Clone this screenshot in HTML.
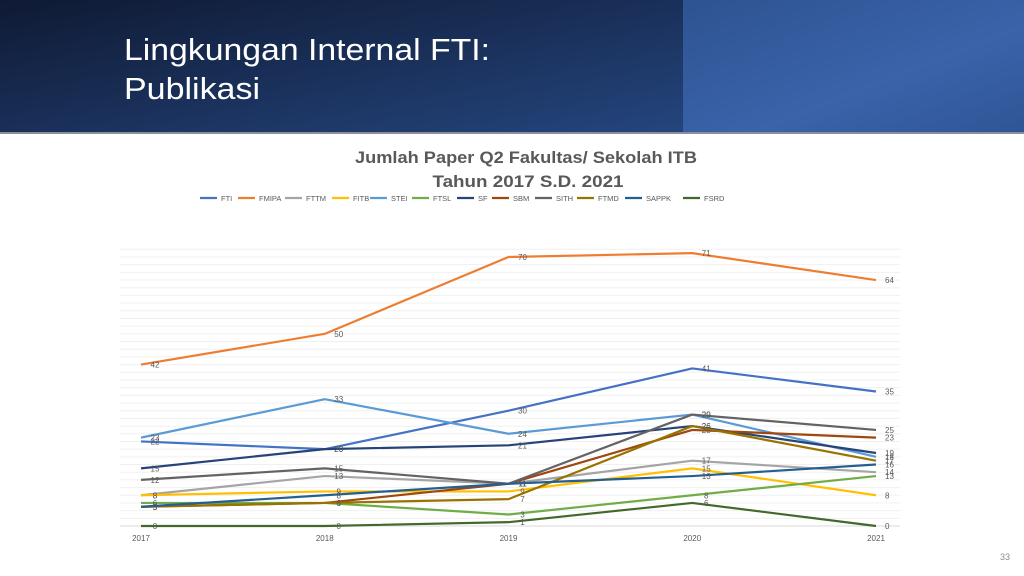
<!DOCTYPE html>
<html><head><meta charset="utf-8"><style>
html,body{margin:0;padding:0;width:1024px;height:576px;overflow:hidden;background:#fff;font-family:"Liberation Sans",sans-serif}
</style></head><body>
<svg width="1024" height="576" viewBox="0 0 1024 576" xmlns="http://www.w3.org/2000/svg">
<defs>
<linearGradient id="bgL" x1="0" y1="0" x2="1" y2="1"><stop offset="0" stop-color="#0f1a33"/><stop offset="1" stop-color="#24457e"/></linearGradient>
<linearGradient id="bgR" x1="0" y1="0" x2="1" y2="1"><stop offset="0" stop-color="#2e5392"/><stop offset="0.6" stop-color="#3a63a9"/><stop offset="1" stop-color="#2f5596"/></linearGradient>
</defs>
<rect x="0" y="0" width="683" height="133" fill="url(#bgL)"/>
<rect x="683" y="0" width="341" height="133" fill="url(#bgR)"/>
<rect x="0" y="132" width="1024" height="2" fill="#8a8f99"/>
<text x="124" y="60" font-size="31" fill="#fff" textLength="366" lengthAdjust="spacingAndGlyphs">Lingkungan Internal FTI:</text>
<text x="124" y="99" font-size="31" fill="#fff" textLength="136" lengthAdjust="spacingAndGlyphs">Publikasi</text>
<text x="526" y="163" font-size="17" font-weight="bold" fill="#595959" text-anchor="middle" textLength="342" lengthAdjust="spacingAndGlyphs">Jumlah Paper Q2 Fakultas/ Sekolah ITB</text>
<text x="528" y="187" font-size="17" font-weight="bold" fill="#595959" text-anchor="middle" textLength="191" lengthAdjust="spacingAndGlyphs">Tahun 2017 S.D. 2021</text>
<g id="grid"></g>
<g id="legend"></g>
<g id="series"></g>
<g id="xaxis"></g>
<text x="1010" y="560" font-size="9" fill="#8c8c8c" text-anchor="end">33</text>
</svg>
<script>
const years = ["2017","2018","2019","2020","2021"];
const names = ["FTI","FMIPA","FTTM","FITB","STEI","FTSL","SF","SBM","SITH","FTMD","SAPPK","FSRD"];
const colors = ["#4472c4","#ed7d31","#a5a5a5","#ffc000","#5b9bd5","#70ad47","#264478","#9e480e","#636363","#997300","#255e91","#43682b"];
const vFTI = [22,20,30,41,35];
const vFMIPA = [42,50,70,71,64];
const vFTTM = [8,13,11,17,14];
const vFITB = [8,9,9,15,8];
const vSTEI = [23,33,24,29,18];
const vFTSL = [6,6,3,8,13];
const vSF = [15,20,21,26,19];
const vSBM = [5,6,11,25,23];
const vSITH = [12,15,11,29,25];
const vFTMD = [5,6,7,26,17];
const vSAPPK = [5,8,11,13,16];
const vFSRD = [0,0,1,6,0];
const seriesVals = [vFTI,vFMIPA,vFTTM,vFITB,vSTEI,vFTSL,vSF,vSBM,vSITH,vFTMD,vSAPPK,vFSRD];
const legendX = [200,238,285,332,370,412,457,492,535,577,625,683];

const NS="http://www.w3.org/2000/svg";
const X0=141, X1=876, Y0=526, YPU=3.843;
const xs=i=>X0+(X1-X0)*i/(years.length-1);
const ys=v=>Y0-v*YPU;
function mk(t,a){const e=document.createElementNS(NS,t);for(const k in a)e.setAttribute(k,a[k]);return e;}

const grid=document.getElementById('grid');
for(let v=2;v<=72;v+=2){
  const l=mk('line',{x1:120,x2:900,y1:ys(v),y2:ys(v),stroke:'#f0f0f0','stroke-width':1});
  
  
  grid.appendChild(l);
}
const ax=mk('line',{x1:120,x2:900,y1:Y0,y2:Y0,stroke:'#d9d9d9','stroke-width':1});


grid.appendChild(ax);

const xa=document.getElementById('xaxis');
years.forEach((y,i)=>{
  const t=mk('text',{x:xs(i),y:541,'font-size':8,fill:'#595959','text-anchor':'middle'});
  t.textContent=y;
  
  
  xa.appendChild(t);
});

const lg=document.getElementById('legend');
names.forEach((n,i)=>{
  const g=mk('g',{});
  
  
  g.appendChild(mk('line',{x1:legendX[i],x2:legendX[i]+17,y1:198,y2:198,stroke:colors[i],'stroke-width':2.2}));
  const t=mk('text',{x:legendX[i]+21,y:201,'font-size':7.5,fill:'#595959'});
  t.textContent=n;
  g.appendChild(t);
  lg.appendChild(g);
});

const sg=document.getElementById('series');
seriesVals.forEach((vals,si)=>{
  const g=mk('g',{});
  
  
  const pts=vals.map((v,i)=>xs(i)+','+ys(v)).join(' ');
  const pl=mk('polyline',{points:pts,fill:'none',stroke:colors[si],'stroke-width':2.2,'stroke-linejoin':'round'});
  
  
  g.appendChild(pl);
  vals.forEach((v,i)=>{
    const t=mk('text',{x:xs(i)+(i===years.length-1?9:8),y:ys(v)+3,'font-size':8,fill:'#595959','text-anchor':i===years.length-1?'start':'middle'});
    if(i<years.length-1) t.setAttribute('x',xs(i)+14);
    t.textContent=v;
    
    
    g.appendChild(t);
  });
  sg.appendChild(g);
});
</script>
</body></html>
